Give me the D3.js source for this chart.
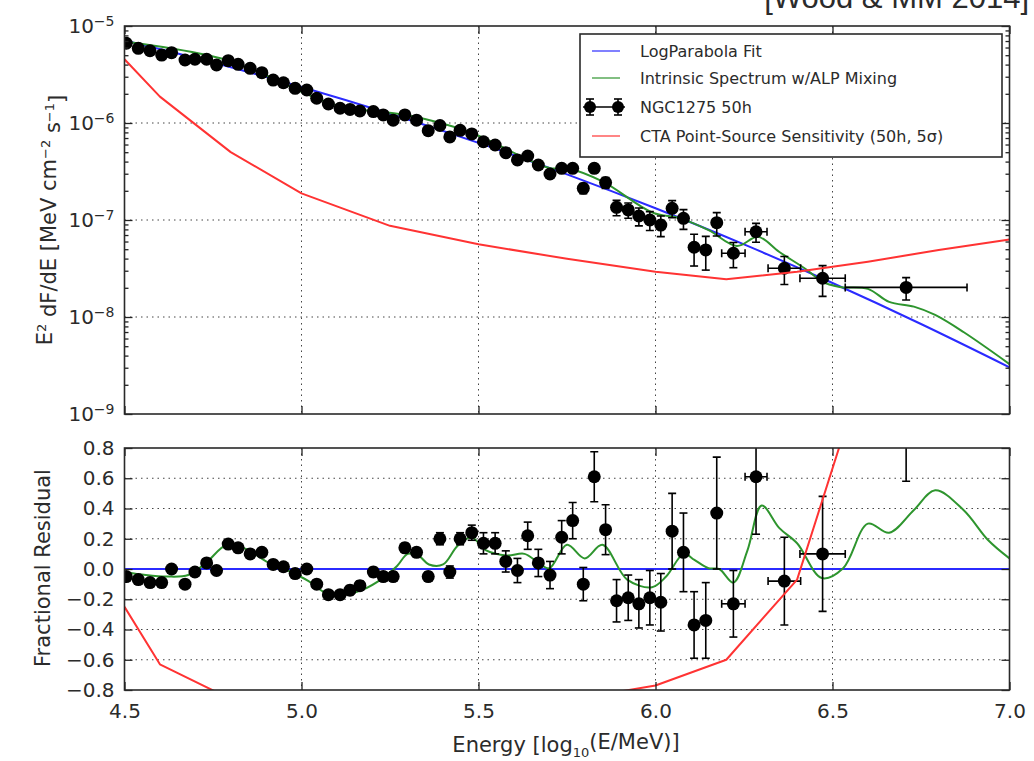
<!DOCTYPE html>
<html>
<head>
<meta charset="utf-8">
<script src="https://cdn.jsdelivr.net/npm/d3@7"></script>
<style>
  body { margin: 0; background: #fff; }
  text { font-family: "DejaVu Sans", sans-serif; fill: #2b2b2b; }
</style>
</head>
<body>
<svg id="chart" width="1034" height="761"></svg>
<script>
// NGC1275 50h data points (log10 E/MeV, E^2 dF/dE in MeV cm^-2 s^-1)
const energy = [4.505, 4.539, 4.572, 4.605, 4.633, 4.671, 4.699, 4.732, 4.760, 4.793,
  4.821, 4.855, 4.888, 4.920, 4.949, 4.982, 5.015, 5.043, 5.076, 5.109,
  5.137, 5.165, 5.203, 5.231, 5.259, 5.292, 5.325, 5.358, 5.391, 5.419,
  5.448, 5.481, 5.514, 5.547, 5.577, 5.610, 5.639, 5.669, 5.702, 5.735,
  5.766, 5.796, 5.827, 5.859, 5.890, 5.923, 5.953, 5.984, 6.015, 6.047,
  6.079, 6.109, 6.142, 6.173, 6.220, 6.284, 6.364, 6.472, 6.708];
const energyErr = [0, 0, 0, 0, 0, 0, 0, 0, 0, 0, 0, 0, 0, 0, 0, 0, 0, 0, 0, 0,
  0, 0, 0, 0, 0, 0, 0, 0, 0, 0, 0, 0, 0, 0, 0, 0, 0, 0, 0, 0,
  0, 0, 0, 0, 0, 0, 0, 0, 0, 0, 0, 0, 0, 0, 0.033, 0.031, 0.046, 0.064, 0.172];
const flux = [6.64e-6, 5.89e-6, 5.56e-6, 5.02e-6, 5.31e-6, 4.46e-6, 4.54e-6, 4.54e-6, 3.96e-6, 4.39e-6,
  4.03e-6, 3.66e-6, 3.30e-6, 2.77e-6, 2.60e-6, 2.28e-6, 2.19e-6, 1.80e-6, 1.57e-6, 1.42e-6,
  1.38e-6, 1.33e-6, 1.31e-6, 1.21e-6, 1.07e-6, 1.21e-6, 1.07e-6, 8.34e-7, 9.42e-7, 7.18e-7,
  8.41e-7, 7.71e-7, 6.41e-7, 5.93e-7, 4.94e-7, 4.16e-7, 4.57e-7, 3.69e-7, 2.98e-7, 3.41e-7,
  3.41e-7, 2.12e-7, 3.41e-7, 2.43e-7, 1.35e-7, 1.27e-7, 1.10e-7, 1.00e-7, 8.87e-8, 1.32e-7,
  1.04e-7, 5.24e-8, 4.91e-8, 9.38e-8, 4.54e-8, 7.57e-8, 3.18e-8, 2.51e-8, 2.02e-8];
// relative flux errors (sigma / flux)
const fluxErrRel = [0.02, 0.02, 0.02, 0.02, 0.02, 0.02, 0.02, 0.02, 0.02, 0.02,
  0.025, 0.025, 0.025, 0.025, 0.025, 0.025, 0.025, 0.025, 0.025, 0.025,
  0.03, 0.03, 0.03, 0.03, 0.03, 0.03, 0.03, 0.03, 0.04, 0.04,
  0.04, 0.05, 0.06, 0.06, 0.07, 0.08, 0.07, 0.09, 0.09, 0.09,
  0.09, 0.12, 0.10, 0.13, 0.18, 0.18, 0.21, 0.22, 0.24, 0.20,
  0.23, 0.36, 0.38, 0.27, 0.29, 0.22, 0.32, 0.35, 0.26];
const resid = [-0.05, -0.07, -0.09, -0.09, 0.00, -0.10, -0.02, 0.04, -0.01, 0.165,
  0.14, 0.10, 0.11, 0.03, 0.015, -0.03, 0.00, -0.10, -0.17, -0.17,
  -0.14, -0.11, -0.02, -0.05, -0.05, 0.14, 0.11, -0.05, 0.20, -0.02,
  0.20, 0.24, 0.17, 0.17, 0.05, -0.01, 0.22, 0.04, -0.04, 0.21,
  0.32, -0.10, 0.61, 0.26, -0.21, -0.19, -0.23, -0.19, -0.22, 0.25,
  0.11, -0.37, -0.34, 0.37, -0.23, 0.61, -0.08, 0.10, 1.00];
const residErr = [0.02, 0.02, 0.02, 0.02, 0.02, 0.02, 0.02, 0.02, 0.02, 0.02,
  0.025, 0.025, 0.025, 0.025, 0.025, 0.025, 0.025, 0.025, 0.025, 0.025,
  0.03, 0.03, 0.03, 0.03, 0.03, 0.03, 0.03, 0.03, 0.04, 0.04,
  0.04, 0.05, 0.07, 0.07, 0.07, 0.08, 0.09, 0.09, 0.09, 0.11,
  0.12, 0.11, 0.165, 0.165, 0.14, 0.15, 0.16, 0.18, 0.19, 0.25,
  0.26, 0.22, 0.25, 0.37, 0.22, 0.38, 0.29, 0.38, 0.42];

// LogParabola fit
const fitE = [4.5, 4.75, 5.0, 5.25, 5.5, 5.75, 6.0, 6.25, 6.5, 6.75, 7.0];
const fitFlux = [7.08e-6, 4.20e-6, 2.35e-6, 1.245e-6, 6.24e-7, 2.95e-7, 1.32e-7, 5.60e-8, 2.24e-8, 8.47e-9, 3.03e-9];
const fitResE = [4.5, 7.0];
const fitRes = [0, 0];

// Intrinsic spectrum w/ ALP mixing
const alpE = [4.50, 4.79, 5.10, 5.30, 5.47, 5.70, 5.75, 5.85, 5.99, 6.07, 6.15, 6.23, 6.29, 6.35,
  6.43, 6.47, 6.52, 6.60, 6.66, 6.73, 6.79, 6.87, 7.00];
const alpFlux = [6.93e-6, 4.45e-6, 1.52e-6, 1.20e-6, 8.17e-7, 3.44e-7, 3.42e-7, 2.50e-7, 1.20e-7, 1.04e-7,
  7.85e-8, 5.40e-8, 6.70e-8, 4.68e-8, 3.02e-8, 2.31e-8, 2.04e-8, 1.95e-8, 1.43e-8, 1.28e-8,
  1.05e-8, 7.0e-9, 3.27e-9];
const alpResE = [4.50, 4.56, 4.62, 4.68, 4.73, 4.79, 4.85, 4.90, 4.97, 5.02, 5.07, 5.12, 5.17, 5.23,
  5.27, 5.30, 5.33, 5.36, 5.40, 5.44, 5.48, 5.52, 5.58, 5.63, 5.67, 5.70, 5.75, 5.80, 5.85,
  5.92, 5.99, 6.03, 6.08, 6.11, 6.15, 6.18, 6.22, 6.26, 6.30, 6.35, 6.40, 6.47, 6.53, 6.60,
  6.66, 6.73, 6.79, 6.87, 6.94, 7.00];
const alpRes = [-0.02, -0.04, -0.05, -0.04, 0.04, 0.16, 0.125, 0.05, -0.02, -0.08, -0.16, -0.17, -0.14, -0.06,
  0.02, 0.10, 0.09, 0.03, 0.03, 0.15, 0.21, 0.125, 0.09, 0.10, 0.04, 0.005, 0.16, 0.07, 0.16,
  -0.07, -0.12, -0.05, 0.10, 0.06, 0.005, 0.0, -0.09, 0.125, 0.42, 0.27, 0.17, -0.06, 0.005, 0.30,
  0.24, 0.39, 0.52, 0.39, 0.19, 0.07];

// CTA point-source sensitivity (50h, 5 sigma)
const ctaE = [4.5, 4.6, 4.8, 5.0, 5.25, 5.5, 5.75, 6.0, 6.2, 6.4, 6.6, 6.8, 7.0];
const ctaFlux = [4.54e-6, 1.87e-6, 5.01e-7, 1.88e-7, 8.71e-8, 5.62e-8, 3.98e-8, 2.93e-8, 2.45e-8, 2.93e-8, 3.72e-8, 4.90e-8, 6.31e-8];
const ctaResE = [4.5, 4.6, 4.8, 5.0, 5.5, 5.9, 6.0, 6.2, 6.4, 6.6];
const ctaRes = [-0.25, -0.63, -0.86, -0.92, -0.90, -0.81, -0.77, -0.60, -0.07, 1.40];

const xTicks = [4.5, 5.0, 5.5, 6.0, 6.5, 7.0];
const fluxTicks = [1e-9, 1e-8, 1e-7, 1e-6, 1e-5];
const resTicks = [-0.8, -0.6, -0.4, -0.2, 0.0, 0.2, 0.4, 0.6, 0.8];

const legendLabels = ['LogParabola Fit', 'Intrinsic Spectrum w/ALP Mixing', 'NGC1275 50h', 'CTA Point-Source Sensitivity (50h, 5\u03c3)'];

const colors = { fit: '#2b2bff', alp: '#2e952e', cta: '#ff3333', data: '#000' };

// ---------------------------------------------------------------------------
const left = 124.5, right = 1009.5;
const top1 = 26, bottom1 = 414;
const top2 = 448, bottom2 = 690;

const svg = d3.select('#chart');

const x = d3.scaleLinear().domain([4.5, 7.0]).range([left, right]);
const yF = d3.scaleLog().domain([1e-9, 1e-5]).range([bottom1, top1]);
const yR = d3.scaleLinear().domain([-0.8, 0.8]).range([bottom2, top2]);

const defs = svg.append('defs');
defs.append('clipPath').attr('id', 'clipTop').append('rect')
  .attr('x', left).attr('y', top1).attr('width', right - left).attr('height', bottom1 - top1);
defs.append('clipPath').attr('id', 'clipRes').append('rect')
  .attr('x', left).attr('y', top2).attr('width', right - left).attr('height', bottom2 - top2);

const points = energy.map((e, i) => ({
  e: e, ex: energyErr[i],
  f: flux[i], fe: flux[i] * fluxErrRel[i],
  r: resid[i], re: residErr[i]
}));

function grid(g, yScale, yVals, y0, y1) {
  const gg = g.append('g').attr('stroke', '#444').attr('stroke-width', 1).attr('stroke-dasharray', '1.5,4');
  xTicks.slice(1, -1).forEach(v => {
    gg.append('line').attr('x1', x(v)).attr('x2', x(v)).attr('y1', y0).attr('y2', y1);
  });
  yVals.forEach(v => {
    gg.append('line').attr('x1', left).attr('x2', right).attr('y1', yScale(v)).attr('y2', yScale(v));
  });
}

function styleAxis(g) {
  g.select('.domain').remove();
  g.selectAll('.tick line').attr('stroke', '#222').attr('stroke-width', 1.3);
  g.selectAll('.tick text').attr('font-size', 20).attr('fill', '#2b2b2b').attr('font-family', 'DejaVu Sans');
}

function frameAxes(yScale, y0, y1, majorY, minorY) {
  const g = svg.append('g');
  const l = g.append('g').attr('transform', `translate(${left},0)`)
    .call(d3.axisLeft(yScale).tickValues(majorY).tickSize(-8).tickPadding(10));
  styleAxis(l);
  const r = g.append('g').attr('transform', `translate(${right},0)`)
    .call(d3.axisRight(yScale).tickValues(majorY).tickSize(-8).tickFormat(''));
  styleAxis(r);
  if (minorY) {
    styleAxis(g.append('g').attr('transform', `translate(${left},0)`)
      .call(d3.axisLeft(yScale).tickValues(minorY).tickSize(-4).tickFormat('')));
    styleAxis(g.append('g').attr('transform', `translate(${right},0)`)
      .call(d3.axisRight(yScale).tickValues(minorY).tickSize(-4).tickFormat('')));
  }
  styleAxis(g.append('g').attr('transform', `translate(0,${y0})`)
    .call(d3.axisTop(x).tickValues(xTicks).tickSize(-8).tickFormat('')));
  g.append('rect').attr('x', left).attr('y', y0).attr('width', right - left).attr('height', y1 - y0)
    .attr('fill', 'none').attr('stroke', '#2a2a2a').attr('stroke-width', 1.6);
  return { g, l };
}

function drawSeries(g, xs, ys, yScale, color, curve) {
  const data = xs.map((v, i) => [v, ys[i]]);
  g.append('path').datum(data)
    .attr('fill', 'none').attr('stroke', color).attr('stroke-width', 2)
    .attr('stroke-linejoin', 'round')
    .attr('d', d3.line().x(d => x(d[0])).y(d => yScale(d[1])).curve(curve));
}

function drawPoints(g, yOf, loOf, hiOf) {
  const cap = 4;
  const eb = g.append('g').attr('stroke', colors.data).attr('stroke-width', 1.6);
  points.forEach(p => {
    const cx = x(p.e), cy = yOf(p), lo = loOf(p), hi = hiOf(p);
    eb.append('line').attr('x1', cx).attr('x2', cx).attr('y1', lo).attr('y2', hi);
    eb.append('line').attr('x1', cx - cap).attr('x2', cx + cap).attr('y1', lo).attr('y2', lo);
    eb.append('line').attr('x1', cx - cap).attr('x2', cx + cap).attr('y1', hi).attr('y2', hi);
    if (p.ex > 0) {
      const xl = x(p.e - p.ex), xr = x(p.e + p.ex);
      eb.append('line').attr('x1', xl).attr('x2', xr).attr('y1', cy).attr('y2', cy);
      eb.append('line').attr('x1', xl).attr('x2', xl).attr('y1', cy - cap).attr('y2', cy + cap);
      eb.append('line').attr('x1', xr).attr('x2', xr).attr('y1', cy - cap).attr('y2', cy + cap);
    }
  });
  g.append('g').selectAll('circle').data(points).join('circle')
    .attr('cx', p => x(p.e)).attr('cy', yOf).attr('r', 6.5).attr('fill', colors.data);
}

// ---- top panel: spectrum ----
grid(svg, yF, [1e-8, 1e-7, 1e-6], top1, bottom1);
const topG = svg.append('g').attr('clip-path', 'url(#clipTop)');
drawSeries(topG, fitE, fitFlux, yF, colors.fit, d3.curveCatmullRom);
drawSeries(topG, alpE, alpFlux, yF, colors.alp, d3.curveCatmullRom);
drawPoints(topG, p => yF(p.f), p => yF(Math.max(p.f - p.fe, 1e-10)), p => yF(p.f + p.fe));
drawSeries(topG, ctaE, ctaFlux, yF, colors.cta, d3.curveLinear);

const minorF = [];
for (let k = -9; k < -5; k++) for (let m = 2; m <= 9; m++) minorF.push(m * Math.pow(10, k));
const topAx = frameAxes(yF, top1, bottom1, fluxTicks, minorF);
styleAxis(topAx.g.append('g').attr('transform', `translate(0,${bottom1})`)
  .call(d3.axisBottom(x).tickValues(xTicks).tickSize(-8).tickFormat('')));
topAx.l.selectAll('.tick text').text(null).each(function (d) {
  const t = d3.select(this);
  t.append('tspan').text('10');
  t.append('tspan').attr('dy', '-0.5em').attr('font-size', 14)
    .text('\u2212' + Math.round(-Math.log10(d)));
});

// ---- bottom panel: residuals ----
grid(svg, yR, [-0.6, -0.4, -0.2, 0.0, 0.2, 0.4, 0.6], top2, bottom2);
const resG = svg.append('g').attr('clip-path', 'url(#clipRes)');
drawSeries(resG, fitResE, fitRes, yR, colors.fit, d3.curveLinear);
drawSeries(resG, alpResE, alpRes, yR, colors.alp, d3.curveCatmullRom);
drawPoints(resG, p => yR(p.r), p => yR(p.r - p.re), p => yR(p.r + p.re));
drawSeries(resG, ctaResE, ctaRes, yR, colors.cta, d3.curveLinear);

const resAx = frameAxes(yR, top2, bottom2, resTicks, null);
resAx.l.selectAll('.tick text').text(d => d3.format('.1f')(d));
const xb = resAx.g.append('g').attr('transform', `translate(0,${bottom2})`)
  .call(d3.axisBottom(x).tickValues(xTicks).tickSize(-8).tickPadding(14).tickFormat(d3.format('.1f')));
styleAxis(xb);

// ---- axis labels ----
const yl1 = svg.append('text').attr('transform', 'translate(52,220) rotate(-90)')
  .attr('text-anchor', 'middle').attr('font-size', 21);
yl1.append('tspan').text('E');
yl1.append('tspan').attr('dy', '-0.5em').attr('font-size', 13).text('2');
yl1.append('tspan').attr('dy', '0.5em').text(' dF/dE [MeV cm');
yl1.append('tspan').attr('dy', '-0.5em').attr('font-size', 13).text('\u22122');
yl1.append('tspan').attr('dy', '0.5em').text(' s');
yl1.append('tspan').attr('dy', '-0.5em').attr('font-size', 13).text('\u22121');
yl1.append('tspan').attr('dy', '0.5em').text(']');

svg.append('text').attr('transform', 'translate(50,568) rotate(-90)')
  .attr('text-anchor', 'middle').attr('font-size', 21).text('Fractional Residual');

const xl = svg.append('text').attr('x', 566).attr('y', 752)
  .attr('text-anchor', 'middle').attr('font-size', 21);
xl.append('tspan').text('Energy [log');
xl.append('tspan').attr('dy', '0.35em').attr('font-size', 13).text('10');
xl.append('tspan').attr('dy', '-0.35em').text('(E/MeV)]');

// ---- citation ----
svg.append('text').attr('x', 1029).attr('y', 8).attr('text-anchor', 'end')
  .attr('font-family', 'Liberation Sans').style('font-family', '"Liberation Sans", sans-serif')
  .attr('font-size', 31).attr('fill', '#333').text('[Wood & MM 2014]');

// ---- legend ----
const lg = svg.append('g');
lg.append('rect').attr('x', 580).attr('y', 34).attr('width', 422).attr('height', 123)
  .attr('fill', '#fff').attr('stroke', '#2a2a2a').attr('stroke-width', 1.6);
const rows = [51, 78, 107, 136];
const kinds = ['fit', 'alp', 'data', 'cta'];
rows.forEach((ry, i) => {
  const k = kinds[i];
  if (k === 'data') {
    lg.append('line').attr('x1', 583).attr('x2', 625).attr('y1', ry).attr('y2', ry)
      .attr('stroke', '#000').attr('stroke-width', 1.6);
    [590, 618].forEach(cx => {
      lg.append('line').attr('x1', cx).attr('x2', cx).attr('y1', ry - 8).attr('y2', ry + 8)
        .attr('stroke', '#000').attr('stroke-width', 1.6);
      lg.append('line').attr('x1', cx - 4).attr('x2', cx + 4).attr('y1', ry - 8).attr('y2', ry - 8)
        .attr('stroke', '#000').attr('stroke-width', 1.6);
      lg.append('line').attr('x1', cx - 4).attr('x2', cx + 4).attr('y1', ry + 8).attr('y2', ry + 8)
        .attr('stroke', '#000').attr('stroke-width', 1.6);
      lg.append('circle').attr('cx', cx).attr('cy', ry).attr('r', 6).attr('fill', '#000');
    });
  } else {
    lg.append('line').attr('x1', 592).attr('x2', 620).attr('y1', ry).attr('y2', ry)
      .attr('stroke', colors[k]).attr('stroke-width', 2).attr('stroke-opacity', 0.6);
  }
  lg.append('text').attr('x', 640).attr('y', ry + 5.5).attr('font-size', 16).text(legendLabels[i]);
});
</script>
</body>
</html>
